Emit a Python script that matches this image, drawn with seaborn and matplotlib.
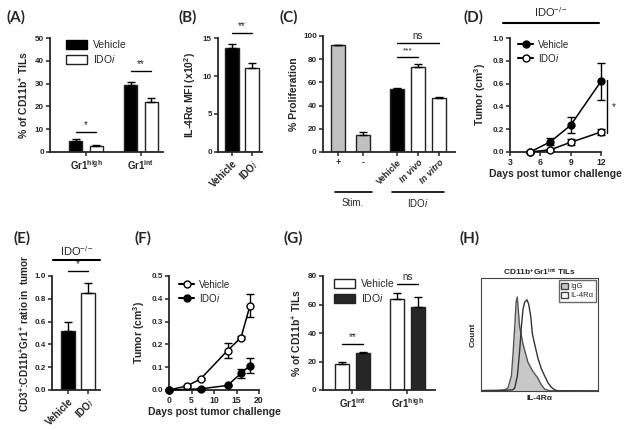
import numpy as np
import pandas as pd
import matplotlib
matplotlib.use('Agg')
import matplotlib.pyplot as plt
import seaborn as sns
from matplotlib.patches import Patch
from matplotlib.lines import Line2D

# ---------------- data ----------------
A_cells = ['Gr1high', 'Gr1int']
A_vehicle = [4.8, 29.3]
A_vehicle_sem = [0.8, 1.5]
A_idoi = [2.5, 21.8]
A_idoi_sem = [0.4, 1.8]

B_groups = ['Vehicle', 'IDOi']
B_mfi = [13.7, 11.1]
B_sem = [0.5, 0.6]

C_groups = ['+', '-', 'Vehicle', 'In vivo', 'In vitro']
C_prolif = [92.0, 15.0, 54.0, 73.0, 46.5]
C_sem = [0.5, 2.0, 1.5, 3.0, 0.7]

D_days = [5, 7, 9, 12]
D_vehicle = [0.0, 0.09, 0.235, 0.62]
D_vehicle_sem = [0.01, 0.03, 0.07, 0.16]
D_idoi = [0.0, 0.02, 0.085, 0.175]
D_idoi_sem = [0.005, 0.008, 0.025, 0.03]

E_groups = ['Vehicle', 'IDOi']
E_ratio = [0.52, 0.85]
E_sem = [0.08, 0.09]

F_vehicle_days = [0, 4, 7, 13, 16, 18]
F_vehicle = [0.0, 0.018, 0.048, 0.173, 0.23, 0.37]
F_vehicle_sem = [0.0, 0.004, 0.004, 0.033, 0.006, 0.05]
F_idoi_days = [0, 7, 13, 16, 18]
F_idoi = [0.0, 0.005, 0.02, 0.073, 0.107]
F_idoi_sem = [0.0, 0.003, 0.004, 0.02, 0.033]

G_cells = ['Gr1int', 'Gr1high']
G_vehicle = [18.5, 64.0]
G_vehicle_sem = [1.0, 4.0]
G_idoi = [26.3, 58.5]
G_idoi_sem = [0.5, 6.5]

H_igg_x = [0, 15, 20, 23, 26, 27.5, 29, 30, 31, 33, 36, 40, 44, 48.5, 51.5, 54.5, 58.5, 66, 100]
H_igg_count = [0.3, 0.5, 1, 2.5, 12.7, 33, 57, 75, 79, 54, 39, 24.5, 17, 11, 5.3, 1.5, 0.3, 0, 0]
H_il4_x = [0, 20, 27, 28.8, 31.1, 33.0, 34.5, 35.9, 37.3, 39.3, 40.7, 42.5, 43.9, 45.9, 48.7,
           51.6, 54.4, 57.3, 60.1, 63.0, 66, 100]
H_il4_count = [0.3, 0.5, 1, 2.4, 12.7, 33.3, 54.0, 68.7, 74.6, 76.7, 73.2, 62.8, 48.1, 39.2, 27.4,
               18.6, 12.7, 6.8, 3.2, 0.9, 0.2, 0]

# ---------------- style ----------------
sns.set_theme(style='ticks')
plt.rcParams['font.family'] = ['Liberation Sans', 'DejaVu Sans']
plt.rcParams['mathtext.fontset'] = 'custom'
plt.rcParams['mathtext.rm'] = 'Liberation Sans'
plt.rcParams['mathtext.it'] = 'Liberation Sans:italic'
plt.rcParams['mathtext.bf'] = 'Liberation Sans:bold'

W, H = 632, 430
fig = plt.figure(figsize=(W / 100, H / 100), dpi=100)


def px_axes(l, t, r, b):
    return fig.add_axes([l / W, 1 - b / H, (r - l) / W, (b - t) / H])


def fp(x, y):
    return (x / W, 1 - y / H)


def ftext(x, y, s, **kw):
    kw.setdefault('ha', 'center')
    kw.setdefault('va', 'center')
    fig.text(x / W, 1 - y / H, s, **kw)


def fline(x0, x1, y0, y1, lw=1.2):
    fig.add_artist(Line2D([x0 / W, x1 / W], [1 - y0 / H, 1 - y1 / H], color='black', lw=lw,
                          transform=fig.transFigure))


def prism(ax, xsize=7, ysize=5.8):
    sns.despine(ax=ax)
    for s in ['left', 'bottom']:
        ax.spines[s].set_linewidth(1.3)
    ax.tick_params(width=1.1, length=3, pad=1.5)
    ax.tick_params(axis='x', labelsize=xsize)
    ax.tick_params(axis='y', labelsize=ysize)
    for lab in ax.get_xticklabels() + ax.get_yticklabels():
        lab.set_fontweight('bold')


def noclip(container):
    for art in container.get_children():
        art.set_clip_on(False)


def bar_err(ax, xs, means, errs):
    c = ax.errorbar(xs, means, yerr=[np.zeros(len(errs)), errs], fmt='none', ecolor='black',
                    elinewidth=1.0, capsize=3, capthick=1.0, zorder=1)
    noclip(c)


def line_err(ax, xs, means, errs):
    c = ax.errorbar(xs, means, yerr=errs, fmt='none', ecolor='black',
                    elinewidth=1.0, capsize=3, capthick=1.0, zorder=2)
    noclip(c)


def sig(ax, x0, x1, y, label, size=7):
    ax.plot([x0, x1], [y, y], color='black', lw=1.0, clip_on=False)
    ax.annotate(label, xy=((x0 + x1) / 2, y), xytext=(0, 1.5), textcoords='offset points',
                ha='center', va='bottom', fontsize=size, annotation_clip=False)


def bar_centers(ax):
    ps = [p for p in ax.patches if p.get_width() > 0]
    return sorted([p.get_x() + p.get_width() / 2 for p in ps])


LBL = dict(fontsize=7.5, fontweight='bold')
IDOI = 'IDO$\\it{i}$'

# ---------------- panel A ----------------
axA = px_axes(50, 38, 163, 152)
dfA = pd.DataFrame({'cell': A_cells * 2, 'treatment': ['Vehicle'] * 2 + ['IDOi'] * 2,
                    'value': A_vehicle + A_idoi})
sns.barplot(data=dfA, x='cell', y='value', hue='treatment', order=A_cells,
            hue_order=['Vehicle', 'IDOi'], palette={'Vehicle': 'black', 'IDOi': 'white'},
            width=0.76, gap=0.34, errorbar=None, edgecolor='#222222', linewidth=1.0,
            legend=False, ax=axA)
cx = bar_centers(axA)
means = [A_vehicle[0], A_idoi[0], A_vehicle[1], A_idoi[1]]
errs = [A_vehicle_sem[0], A_idoi_sem[0], A_vehicle_sem[1], A_idoi_sem[1]]
bar_err(axA, cx, means, errs)
axA.set_xlim(-0.655, 1.4)
axA.set_ylim(0, 50)
axA.set_yticks([0, 10, 20, 30, 40, 50])
axA.set_xticks([0, 1])
axA.set_xticklabels(['Gr1$^{\\mathbf{high}}$', 'Gr1$^{\\mathbf{int}}$'])
axA.set_xlabel('')
axA.set_ylabel('% of CD11b$^{\\mathbf{+}}$ TILs', labelpad=3, **LBL)
sig(axA, cx[0], cx[1], 8.8, '*')
sig(axA, cx[2], cx[3], 35.5, '**')
axA.legend(handles=[Patch(facecolor='black', edgecolor='black', label='Vehicle'),
                    Patch(facecolor='white', edgecolor='#222222', label=IDOI)],
           loc='upper left', bbox_to_anchor=fp(60, 34), bbox_transform=fig.transFigure,
           frameon=False, fontsize=7.5, handlelength=2.0, handleheight=0.9,
           borderpad=0.1, labelspacing=0.25, handletextpad=0.6)
prism(axA)

# ---------------- panel B ----------------
axB = px_axes(218, 38, 262, 152)
sns.barplot(x=B_groups, y=B_mfi, hue=B_groups, palette=['black', 'white'], width=0.7,
            errorbar=None, edgecolor='#222222', linewidth=1.0, legend=False, ax=axB)
bx = bar_centers(axB)
bar_err(axB, bx, B_mfi, B_sem)
axB.set_xlim(-0.7, 1.5)
axB.set_ylim(0, 15)
axB.set_yticks([0, 5, 10, 15])
axB.set_xticks([0, 1])
axB.set_xticklabels(['Vehicle', IDOI], rotation=45, ha='right', rotation_mode='anchor')
axB.set_ylabel('IL-4R\u03b1 MFI (x10$^{\\mathbf{2}}$)', labelpad=3, **LBL)
sig(axB, bx[0], bx[1], 15.7, '**')
prism(axB)

# ---------------- panel C ----------------
C_pos = [0, 1.2, 2.8, 3.8, 4.8]
axC = px_axes(323, 36, 455, 152)
sns.barplot(x=C_pos, y=C_prolif, hue=C_groups, native_scale=True, dodge=False,
            palette=['#c0c0c0', '#c0c0c0', 'black', 'white', 'white'], width=0.67,
            errorbar=None, edgecolor='#222222', linewidth=1.0, legend=False, ax=axC)
bar_err(axC, C_pos, C_prolif, C_sem)
axC.set_xlim(-0.71, 5.57)
axC.set_ylim(0, 100)
axC.set_yticks([0, 20, 40, 60, 80, 100])
axC.set_xticks(C_pos)
axC.set_xticklabels(C_groups, rotation=45, ha='right', rotation_mode='anchor')
for i, lab in enumerate(axC.get_xticklabels()):
    if i < 2:
        lab.set_rotation(0)
        lab.set_ha('center')
axC.set_ylabel('% Proliferation', labelpad=3, **LBL)
axC.set_xlabel('')
sig(axC, C_pos[2], C_pos[3], 82, '***', size=6)
sig(axC, C_pos[2], C_pos[4], 94, 'ns')
prism(axC, xsize=6.5)
for i, lab in enumerate(axC.get_xticklabels()):
    if i >= 3:
        lab.set_style('italic')
fline(335, 372, 192, 192)
fline(392, 444, 192, 192)
ftext(353, 203, 'Stim.', fontsize=7)
ftext(418, 203, IDOI, fontsize=7)

# ---------------- panel D ----------------
axD = px_axes(510, 38, 601, 152)
line_err(axD, D_days, D_vehicle, D_vehicle_sem)
line_err(axD, D_days, D_idoi, D_idoi_sem)
sns.lineplot(x=D_days, y=D_vehicle, color='black', marker='o', markersize=5,
             markerfacecolor='black', markeredgecolor='black', markeredgewidth=1,
             lw=1.1, ax=axD, zorder=3, clip_on=False)
sns.lineplot(x=D_days, y=D_idoi, color='black', marker='o', markersize=5,
             markerfacecolor='white', markeredgecolor='black', markeredgewidth=1,
             lw=1.1, ax=axD, zorder=3, clip_on=False)
axD.set_xlim(3, 12)
axD.set_ylim(0, 1.0)
axD.set_xticks([3, 6, 9, 12])
axD.set_yticks([0, 0.2, 0.4, 0.6, 0.8, 1.0])
axD.set_yticklabels(['0.0', '0.2', '0.4', '0.6', '0.8', '1.0'])
axD.set_ylabel('Tumor (cm$^{\\mathbf{3}}$)', labelpad=3, **LBL)
axD.set_xlabel('Days post tumor challenge', labelpad=1, **LBL)
axD.legend(handles=[Line2D([], [], color='black', marker='o', ms=5, mfc='black', label='Vehicle'),
                    Line2D([], [], color='black', marker='o', ms=5, mfc='white', label=IDOI)],
           loc='upper left', bbox_to_anchor=fp(512, 34), bbox_transform=fig.transFigure,
           frameon=False, fontsize=7, handlelength=1.6, borderpad=0.1, labelspacing=0.2,
           handletextpad=0.5)
prism(axD, xsize=6.2, ysize=5.8)
fline(607, 607, 80, 133, lw=1.0)
ftext(614, 107, '*', fontsize=7)
ftext(551, 12, 'IDO$^{-/-}$', fontsize=8)
fline(503, 599, 23, 23, lw=1.5)

# ---------------- panel E ----------------
axE = px_axes(52, 276, 100, 390)
sns.barplot(x=E_groups, y=E_ratio, hue=E_groups, palette=['black', 'white'], width=0.7,
            errorbar=None, edgecolor='#222222', linewidth=1.0, legend=False, ax=axE)
ex = bar_centers(axE)
bar_err(axE, ex, E_ratio, E_sem)
axE.set_xlim(-0.8, 1.6)
axE.set_ylim(0, 1.0)
axE.set_yticks([0, 0.2, 0.4, 0.6, 0.8, 1.0])
axE.set_yticklabels(['0.0', '0.2', '0.4', '0.6', '0.8', '1.0'])
axE.set_xticks([0, 1])
axE.set_xticklabels(['Vehicle', IDOI], rotation=45, ha='right', rotation_mode='anchor')
axE.set_ylabel('CD3$^{\\mathbf{+}}$:CD11b$^{\\mathbf{+}}$Gr1$^{\\mathbf{+}}$ ratio in  tumor',
               labelpad=2, fontsize=7.2, fontweight='bold')
sig(axE, ex[0], ex[1], 1.04, '*')
prism(axE)
ftext(77, 251, 'IDO$^{-/-}$', fontsize=8)
fline(53, 100, 260, 260, lw=1.5)

# ---------------- panel F ----------------
axF = px_axes(169, 276, 259, 390)
line_err(axF, F_vehicle_days, F_vehicle, F_vehicle_sem)
line_err(axF, F_idoi_days, F_idoi, F_idoi_sem)
sns.lineplot(x=F_vehicle_days, y=F_vehicle, color='black', marker='o', markersize=5,
             markerfacecolor='white', markeredgecolor='black', markeredgewidth=1,
             lw=1.1, ax=axF, zorder=3, clip_on=False)
sns.lineplot(x=F_idoi_days, y=F_idoi, color='black', marker='o', markersize=5,
             markerfacecolor='black', markeredgecolor='black', markeredgewidth=1,
             lw=1.1, ax=axF, zorder=3, clip_on=False)
axF.set_xlim(0, 20)
axF.set_ylim(0, 0.5)
axF.set_xticks([0, 5, 10, 15, 20])
axF.set_yticks([0, 0.1, 0.2, 0.3, 0.4, 0.5])
axF.set_yticklabels(['0.0', '0.1', '0.2', '0.3', '0.4', '0.5'])
axF.set_ylabel('Tumor (cm$^{\\mathbf{3}}$)', labelpad=3, **LBL)
axF.set_xlabel('Days post tumor challenge', labelpad=1, **LBL)
axF.legend(handles=[Line2D([], [], color='black', marker='o', ms=5, mfc='white', label='Vehicle'),
                    Line2D([], [], color='black', marker='o', ms=5, mfc='black', label=IDOI)],
           loc='upper left', bbox_to_anchor=fp(173, 274), bbox_transform=fig.transFigure,
           frameon=False, fontsize=7, handlelength=1.6, borderpad=0.1, labelspacing=0.2,
           handletextpad=0.5)
prism(axF, xsize=6.2, ysize=5.8)

# ---------------- panel G ----------------
axG = px_axes(323, 276, 435, 390)
dfG = pd.DataFrame({'cell': G_cells * 2, 'treatment': ['Vehicle'] * 2 + ['IDOi'] * 2,
                    'value': G_vehicle + G_idoi})
sns.barplot(data=dfG, x='cell', y='value', hue='treatment', order=G_cells,
            hue_order=['Vehicle', 'IDOi'], palette={'Vehicle': 'white', 'IDOi': '#262626'},
            width=0.76, gap=0.34, errorbar=None, edgecolor='#222222', linewidth=1.0,
            legend=False, ax=axG)
gx = bar_centers(axG)
means = [G_vehicle[0], G_idoi[0], G_vehicle[1], G_idoi[1]]
errs = [G_vehicle_sem[0], G_idoi_sem[0], G_vehicle_sem[1], G_idoi_sem[1]]
bar_err(axG, gx, means, errs)
axG.set_xlim(-0.536, 1.5)
axG.set_ylim(0, 80)
axG.set_yticks([0, 20, 40, 60, 80])
axG.set_xticks([0, 1])
axG.set_xticklabels(['Gr1$^{\\mathbf{int}}$', 'Gr1$^{\\mathbf{high}}$'])
axG.set_xlabel('')
axG.set_ylabel('% of CD11b$^{\\mathbf{+}}$ TILs', labelpad=3, **LBL)
sig(axG, gx[0], gx[1], 32.3, '**')
sig(axG, gx[2], gx[3], 74.4, 'ns')
axG.legend(handles=[Patch(facecolor='white', edgecolor='#222222', label='Vehicle'),
                    Patch(facecolor='#262626', edgecolor='#222222', label=IDOI)],
           loc='upper left', bbox_to_anchor=fp(328, 273), bbox_transform=fig.transFigure,
           frameon=False, fontsize=7.5, handlelength=2.0, handleheight=0.9,
           borderpad=0.1, labelspacing=0.25, handletextpad=0.6)
prism(axG)

# ---------------- panel H ----------------
axH = px_axes(481, 278, 598, 391)
axH.fill_between(H_igg_x, H_igg_count, color='#c8c8c8', lw=0)
sns.lineplot(x=H_igg_x, y=H_igg_count, color='#555555', lw=1.0, ax=axH)
sns.lineplot(x=H_il4_x, y=H_il4_count, color='#333333', lw=1.0, ax=axH)
axH.set_xlim(0, 100)
axH.set_ylim(0, 95)
axH.set_xticks([])
axH.set_yticks([])
for s in axH.spines.values():
    s.set_linewidth(0.8)
    s.set_color('#444444')
axH.set_xlabel('IL-4R\u03b1', fontsize=6, fontweight='bold', labelpad=3)
axH.set_ylabel('Count', fontsize=6, fontweight='bold', labelpad=3)
axH.set_title('CD11b$^{\\mathbf{+}}$Gr1$^{\\mathbf{int}}$ TILs', fontsize=6, fontweight='bold', pad=2)
axH.legend(handles=[Patch(facecolor='#c8c8c8', edgecolor='#444444', label='IgG'),
                    Patch(facecolor='white', edgecolor='#444444', label='IL-4R\u03b1')],
           loc='upper right', frameon=True, fancybox=False, edgecolor='#444444',
           fontsize=5.5, handlelength=0.9, handleheight=0.9, borderpad=0.3,
           labelspacing=0.15, handletextpad=0.3, borderaxespad=0.3)

# ---------------- panel labels ----------------
for lab, x, y in [('(A)', 16, 17), ('(B)', 188, 17), ('(C)', 289, 17), ('(D)', 474, 17),
                  ('(E)', 22, 238), ('(F)', 143, 238), ('(G)', 293, 238), ('(H)', 470, 238)]:
    ftext(x, y, lab, fontsize=11, fontweight='bold', family=['Lato', 'DejaVu Sans'])

fig.savefig('out.png', dpi=100)
